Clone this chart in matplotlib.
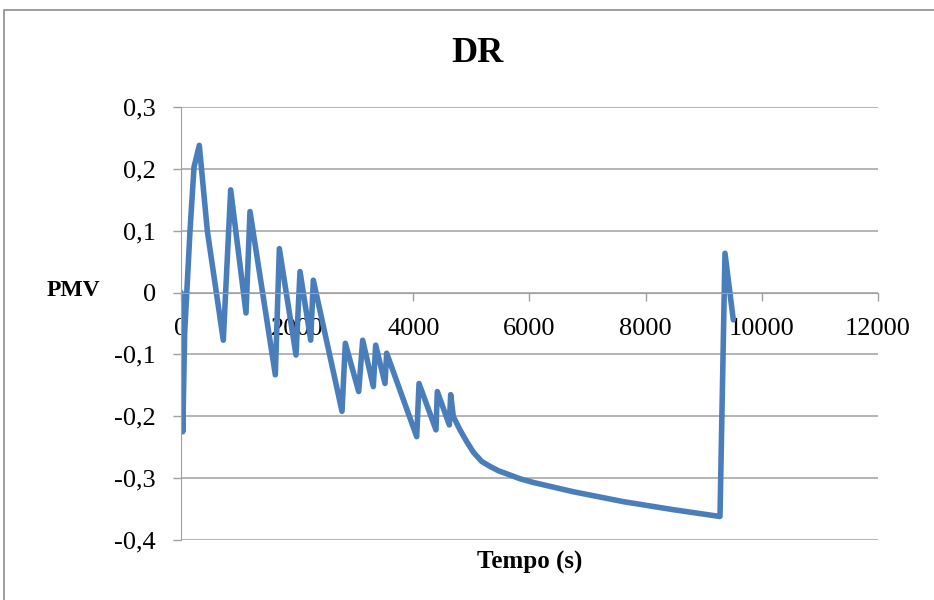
import matplotlib.pyplot as plt
from matplotlib.patches import Rectangle
from matplotlib.ticker import FuncFormatter

# Tempo (s) / PMV
tempo = [0, 30, 63, 155, 224, 315, 453, 728, 855, 1119, 1188, 1624, 1693, 1980,
         2049, 2233, 2278, 2772, 2829, 3059, 3128, 3311, 3352, 3512, 3541, 4058,
         4098, 4390, 4413, 4620, 4643, 4689, 4804, 4919, 5033, 5177, 5320, 5464,
         5608, 5837, 6066, 6755, 7616, 8477, 9280, 9366, 9509]
pmv = [0.0, -0.225, -0.065, 0.10, 0.203, 0.238, 0.10, -0.077, 0.166, -0.033, 0.131,
       -0.133, 0.071, -0.101, 0.034, -0.077, 0.020, -0.192, -0.082, -0.160, -0.077,
       -0.152, -0.085, -0.147, -0.098, -0.233, -0.147, -0.222, -0.160, -0.214,
       -0.165, -0.2005, -0.222, -0.241, -0.258, -0.273, -0.281, -0.288, -0.293,
       -0.301, -0.307, -0.322, -0.338, -0.351, -0.362, 0.0635, -0.044]

x_ticks = [0, 2000, 4000, 6000, 8000, 10000, 12000]
y_ticks = [-0.4, -0.3, -0.2, -0.1, 0, 0.1, 0.2, 0.3]

plt.rcParams['font.family'] = ['Liberation Serif', 'DejaVu Serif']
grey = '#a0a0a0'

fig = plt.figure(figsize=(9.34, 6.0), dpi=100)
ax = fig.add_axes([0.1938, 0.1, 0.7462, 0.7217])

# moldura da area do grafico
fig.patches.append(Rectangle((0.0045, -0.2), 1.2, 1.1833, transform=fig.transFigure,
                             fill=False, edgecolor='#8c8c8c', linewidth=1.2))

for y in y_ticks:
    ax.axhline(y, color=grey, linewidth=1.1, zorder=1)

ax.plot(tempo, pmv, color='#4a7ebb', linewidth=4.0, solid_joinstyle='round',
        solid_capstyle='round', zorder=2)

ax.set_xlim(0, 12000)
ax.set_ylim(-0.4, 0.3)
ax.set_xticks(x_ticks)
ax.set_yticks(y_ticks)

def fmt(v, pos):
    s = ('%.1f' % v).replace('.', ',')
    if s in ('0,0', '-0,0'):
        return '0'
    return s

ax.yaxis.set_major_formatter(FuncFormatter(fmt))

ax.spines['top'].set_visible(False)
ax.spines['right'].set_visible(False)
ax.spines['bottom'].set_position(('data', 0))
ax.spines['bottom'].set_color(grey)
ax.spines['left'].set_color(grey)
ax.tick_params(axis='both', colors=grey, labelcolor='black', labelsize=19,
               length=6, width=1, direction='out')
ax.tick_params(axis='y', pad=12)
ax.tick_params(axis='x', pad=12)

fig.text(0.511, 0.91, 'DR', ha='center', va='center', fontsize=26, fontweight='bold')
fig.text(0.567, 0.063, 'Tempo (s)', ha='center', va='center', fontsize=18, fontweight='bold')
fig.text(0.079, 0.515, 'PMV', ha='center', va='center', fontsize=17, fontweight='bold')

fig.savefig('out.png', dpi=100)
